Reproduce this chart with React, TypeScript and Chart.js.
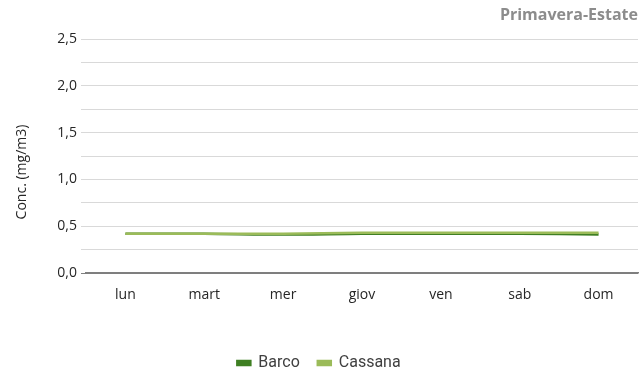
import React, { useEffect, useRef } from "react";
import { Chart, registerables } from "chart.js";

Chart.register(...registerables);

const days = ["lun", "mart", "mer", "giov", "ven", "sab", "dom"];
const barco = [0.42, 0.42, 0.41, 0.42, 0.42, 0.42, 0.41];
const cassana = [0.42, 0.42, 0.42, 0.43, 0.43, 0.43, 0.43];
const yMin = 0;
const yMax = 2.5;
const titleText = "Primavera-Estate";
const yTitle = "Conc. (mg/m3)";

const overlay = {
  id: "overlay",
  afterDraw(chart: any) {
    const ctx = chart.ctx;
    ctx.save();
    ctx.fillStyle = "#8c8c8c";
    ctx.font = "bold 16px 'Open Sans'";
    ctx.textAlign = "right";
    ctx.textBaseline = "middle";
    ctx.fillText(titleText, 638, 15);
    ctx.fillStyle = "#262626";
    ctx.font = "14px 'Open Sans'";
    ctx.translate(22, 172);
    ctx.rotate(-Math.PI / 2);
    ctx.textAlign = "center";
    ctx.fillText(yTitle, 0, 0);
    ctx.restore();
  },
};

export default function App() {
  const ref = useRef<HTMLCanvasElement>(null);
  useEffect(() => {
    document.body.style.margin = "0";
    const chart = new Chart(ref.current!, {
      type: "line",
      data: {
        labels: days,
        datasets: [
          {
            label: "Barco",
            data: barco,
            borderColor: "#3f7f23",
            backgroundColor: "#3f7f23",
            borderWidth: 2.5,
            pointRadius: 0,
            tension: 0.3,
            order: 1,
          },
          {
            label: "Cassana",
            data: cassana,
            borderColor: "#9bbb59",
            backgroundColor: "#9bbb59",
            borderWidth: 2.5,
            pointRadius: 0,
            tension: 0.3,
            order: 0,
          },
        ],
      },
      options: {
        animation: false,
        responsive: false,
        layout: { padding: { top: 39, left: 0, right: 6, bottom: -7 } },
        plugins: {
          title: { display: false },
          tooltip: { enabled: false },
          legend: {
            position: "bottom",
            labels: {
              boxWidth: 13,
              boxHeight: 4,
              padding: 18,
              color: "#404040",
              font: { family: "Roboto", size: 16 },
              sort: (a: any, b: any) => a.datasetIndex - b.datasetIndex,
            },
          },
        },
        scales: {
          x: {
            offset: true,
            grid: { display: false },
            border: { color: "#7f7f7f", width: 1.5 },
            ticks: {
              color: "#262626",
              font: { family: "'Open Sans'", size: 14 },
              padding: 6,
            },
            afterFit(scale: any) {
              scale.height = 64;
            },
          },
          y: {
            min: yMin,
            max: yMax,
            border: { display: false },
            grid: {
              color: (c: any) => (c.tick && c.tick.value === 0 ? "#7f7f7f" : "#d9d9d9"),
              tickLength: 5,
            },
            ticks: {
              stepSize: 0.25,
              autoSkip: false,
              color: "#262626",
              font: { family: "'Open Sans'", size: 14 },
              padding: 4,
              callback: (v: any) => {
                const n = Number(v);
                if (Math.abs(n * 2 - Math.round(n * 2)) > 1e-6) return "";
                return n.toFixed(1).replace(".", ",");
              },
            },
            afterFit(scale: any) {
              scale.width = 86;
            },
          },
        },
      },
      plugins: [overlay],
    });
    return () => chart.destroy();
  }, []);
  return (
    <div style={{ width: 644, height: 374 }}>
      <canvas ref={ref} width={644} height={374} />
    </div>
  );
}
